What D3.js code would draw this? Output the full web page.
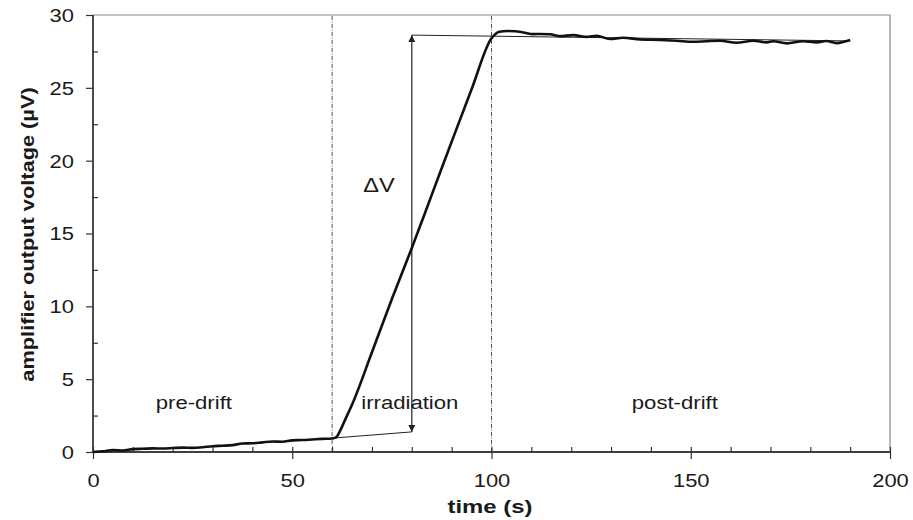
<!DOCTYPE html>
<html>
<head>
<meta charset="utf-8">
<script src="https://cdn.jsdelivr.net/npm/d3@7"></script>
<style>
  body { margin: 0; background: #fff; }
  svg text { font-family: "Liberation Sans", Arial, sans-serif; fill: #1a1a1a; }
</style>
</head>
<body>
<svg id="chart" width="913" height="520"></svg>
<script>
// time (s) and amplifier output (µV)
const timeS = [0, 2.5, 5, 7.5, 10, 12.5, 15, 17.5, 20, 22.5, 25, 27.5, 30, 32.5, 35, 37.5, 40, 42.5, 45, 47.5, 50, 52.5, 55, 57.5, 60, 61, 62, 63, 64, 65,
  70, 75, 80, 85, 90, 95, 100, 101, 102, 104, 106, 108, 110.5, 112, 114.7, 117.2, 120.5, 123.9, 126.4, 129.7, 133, 137.3, 140, 142.3,
  146.4, 150.6, 154, 157.3, 161.5, 165.7, 169, 170.7, 174.1, 178.2, 181.6, 184, 186.6, 190]
const voltage = [0, 0.05, 0.14, 0.1, 0.2, 0.22, 0.25, 0.24, 0.27, 0.3, 0.28, 0.33, 0.4, 0.43, 0.47, 0.58, 0.6, 0.66, 0.72, 0.7, 0.8, 0.82, 0.86, 0.9, 0.93, 1.0, 1.45, 2.05, 2.65, 3.25,
  6.85, 10.5, 14.0, 17.65, 21.3, 24.9, 28.4, 28.7, 28.85, 28.9, 28.88, 28.8, 28.69, 28.7, 28.68, 28.55, 28.62, 28.5, 28.58, 28.35, 28.44, 28.32, 28.3, 28.28,
  28.23, 28.16, 28.2, 28.23, 28.1, 28.23, 28.12, 28.2, 28.05, 28.2, 28.12, 28.22, 28.07, 28.28]

// extrapolated drift lines [t, V]
const preDriftFit = [[60, 0.95], [80, 1.38]]
const postDriftFit = [[80, 28.62], [190, 28.22]]
const phaseBounds = [60, 100]
const phaseLabels = [
  { text: 'pre-drift', t: 25.3, v: 2.95 },
  { text: 'irradiation', t: 79.5, v: 2.95 },
  { text: 'post-drift', t: 146, v: 2.95 },
]
const xTicks = [0, 50, 100, 150, 200]
const xMinor = d3.range(10, 200, 10).filter(d => d % 50 !== 0)
const yTicks = [0, 5, 10, 15, 20, 25, 30]
const yMinor = [2.5, 7.5, 12.5, 17.5, 22.5, 27.5]

const svg = d3.select('#chart')
const plotLeft = 93, plotRight = 890, plotTop = 15, plotBottom = 452
const WIDEN = 1.22 // the original figure's lettering is stretched along the text

const x = d3.scaleLinear().domain([0, 200]).range([plotLeft, plotRight])
const y = d3.scaleLinear().domain([0, 30]).range([plotBottom, plotTop])

const axisColor = '#333'

// move x/y into a transform so the text can be widened around its anchor
function widen(sel, k = WIDEN) {
  sel.each(function () {
    const t = d3.select(this)
    const tx = +t.attr('x') || 0, ty = +t.attr('y') || 0
    const prev = t.attr('transform') || ''
    t.attr('x', 0).attr('y', 0)
      .attr('transform', `${prev} translate(${tx},${ty}) scale(${k},1)`)
  })
}

// frame top/right
svg.append('path')
  .attr('d', `M${plotLeft},${plotTop}H${plotRight}V${plotBottom}`)
  .attr('fill', 'none').attr('stroke', '#888').attr('stroke-width', 1.2)

// phase boundaries (dash-dot)
svg.selectAll('.bound')
  .data(phaseBounds)
  .enter()
  .append('line')
  .attr('x1', d => x(d)).attr('x2', d => x(d))
  .attr('y1', plotBottom).attr('y2', plotTop)
  .attr('stroke', '#555').attr('stroke-width', 1)
  .attr('stroke-dasharray', '4,1.5,1,1.5')

// x axis
const gx = svg.append('g').attr('transform', `translate(0,${plotBottom})`)
gx.call(d3.axisBottom(x).tickValues(xTicks).tickSize(7).tickPadding(15))
gx.append('g').call(d3.axisBottom(x).tickValues(xMinor).tickSize(-5).tickFormat(''))
gx.selectAll('.tick line').attr('stroke', axisColor).attr('stroke-width', 1.2)
gx.selectAll(':scope > .tick line').attr('y1', -5)
gx.selectAll('.domain').attr('stroke', axisColor).attr('stroke-width', 1.3).attr('d', `M${plotLeft},0H${plotRight}`)
gx.selectAll('text').style('font-size', '18px').attr('fill', '#1a1a1a').attr('dy', null)
  .attr('y', 7 + 15 + 12.8).call(widen)

// y axis
const gy = svg.append('g').attr('transform', `translate(${plotLeft},0)`)
gy.call(d3.axisLeft(y).tickValues(yTicks).tickSize(7).tickPadding(12))
gy.append('g').call(d3.axisLeft(y).tickValues(yMinor).tickSize(-5).tickFormat(''))
gy.selectAll('.tick line').attr('stroke', axisColor).attr('stroke-width', 1.2)
gy.selectAll('.domain').attr('stroke', axisColor).attr('stroke-width', 1.3).attr('d', `M0,${plotBottom}V${plotTop}`)
gy.selectAll('text').style('font-size', '18px').attr('fill', '#1a1a1a').attr('dy', null)
  .attr('y', 6.4).call(widen)

// axis titles
svg.append('text')
  .attr('x', 490).attr('y', 512.5)
  .attr('text-anchor', 'middle')
  .style('font-size', '19px').style('font-weight', 'bold')
  .text('time (s)')
  .call(widen, 1.26)
svg.append('text')
  .attr('transform', `translate(33.5,234.5) rotate(-90)`)
  .attr('text-anchor', 'middle')
  .style('font-size', '18px').style('font-weight', 'bold')
  .text('amplifier output voltage (\u00b5V)')
  .call(widen, 1.21)

// drift fit lines
const fitLine = d3.line().x(d => x(d[0])).y(d => y(d[1]))
svg.selectAll('.fit')
  .data([preDriftFit, postDriftFit])
  .enter()
  .append('path')
  .attr('d', fitLine)
  .attr('fill', 'none').attr('stroke', '#222').attr('stroke-width', 1)

// ΔV arrow
svg.append('defs').selectAll('marker')
  .data(['arrowHead'])
  .enter()
  .append('marker')
  .attr('id', d => d)
  .attr('viewBox', '0 0 10 10')
  .attr('refX', 10).attr('refY', 5)
  .attr('markerWidth', 9).attr('markerHeight', 7)
  .attr('markerUnits', 'userSpaceOnUse')
  .attr('orient', 'auto-start-reverse')
  .append('path')
  .attr('d', 'M0,0L10,5L0,10Z')
  .attr('fill', '#222')
svg.append('line')
  .attr('x1', x(80)).attr('x2', x(80))
  .attr('y1', y(preDriftFit[1][1])).attr('y2', y(postDriftFit[0][1]))
  .attr('stroke', '#333').attr('stroke-width', 1.3)
  .attr('marker-start', 'url(#arrowHead)')
  .attr('marker-end', 'url(#arrowHead)')
svg.append('text')
  .attr('x', 379).attr('y', 192)
  .attr('text-anchor', 'middle')
  .style('font-size', '20px')
  .text('\u0394V')
  .call(widen, 1.18)

// phase labels
svg.selectAll('.phase')
  .data(phaseLabels)
  .enter()
  .append('text')
  .attr('x', d => x(d.t)).attr('y', d => y(d.v))
  .attr('text-anchor', 'middle')
  .style('font-size', '18px')
  .text(d => d.text)
  .call(widen, 1.23)

// signal trace
const trace = d3.line()
  .x((d, i) => x(timeS[i]))
  .y(d => y(d))
  .curve(d3.curveMonotoneX)
svg.append('path')
  .datum(voltage)
  .attr('d', trace)
  .attr('fill', 'none')
  .attr('stroke', '#111')
  .attr('stroke-width', 2.6)
  .attr('stroke-linejoin', 'round')
</script>
</body>
</html>
